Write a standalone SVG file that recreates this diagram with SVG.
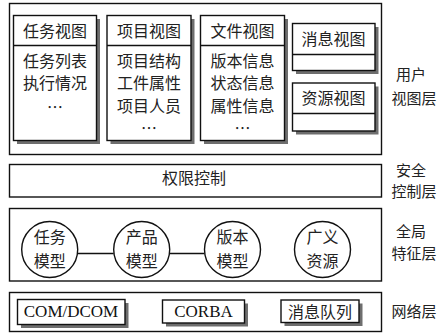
<svg xmlns="http://www.w3.org/2000/svg" width="443" height="335" viewBox="0 0 443 335">
<style>
.frame{fill:#fff;stroke:#111;stroke-width:1.4}
.box{fill:#fff;stroke:#111;stroke-width:1.4}
.sh{fill:#6e6e6e;stroke:none}
.ln{stroke:#111;stroke-width:1.4;fill:none}
.t{font-family:"Noto Sans CJK SC","Liberation Serif",sans-serif;font-size:16px;fill:#222;text-anchor:middle;dominant-baseline:central}
.s{font-family:"Noto Sans CJK SC","Liberation Serif",sans-serif;font-size:15px;fill:#222;text-anchor:middle;dominant-baseline:central}
.e{font-family:"Liberation Serif","Noto Sans CJK SC",serif;font-size:17px;fill:#111;text-anchor:middle;dominant-baseline:central}
</style>
<rect width="443" height="335" fill="#fff"/>
<g id="layer-user">
<rect class="frame" x="9.5" y="3.5" width="372" height="151"/>
<text class="s" x="411" y="73">用户</text>
<text class="s" x="414" y="97">视图层</text>
</g>
<g id="task-view">
<rect class="sh" x="17" y="19" width="83" height="125"/>
<rect class="box" x="13.5" y="15.5" width="83" height="125"/>
<line class="ln" x1="13.5" y1="45.5" x2="96.5" y2="45.5"/>
<text class="t" x="55" y="30">任务视图</text>
<text class="t" x="55" y="60">任务列表</text>
<text class="t" x="55" y="82">执行情况</text>
<text class="t" x="55" y="106">…</text>
</g>
<g id="project-view">
<rect class="sh" x="110.5" y="19" width="84" height="125"/>
<rect class="box" x="107" y="15.5" width="84" height="125"/>
<line class="ln" x1="107" y1="45.5" x2="191" y2="45.5"/>
<text class="t" x="149" y="30">项目视图</text>
<text class="t" x="149" y="60">项目结构</text>
<text class="t" x="149" y="82">工件属性</text>
<text class="t" x="149" y="105">项目人员</text>
<text class="t" x="149" y="127">…</text>
</g>
<g id="file-view">
<rect class="sh" x="204" y="19" width="84" height="125"/>
<rect class="box" x="200.5" y="15.5" width="84" height="125"/>
<line class="ln" x1="200.5" y1="45.5" x2="284.5" y2="45.5"/>
<text class="t" x="242.5" y="30">文件视图</text>
<text class="t" x="242.5" y="60">版本信息</text>
<text class="t" x="242.5" y="82">状态信息</text>
<text class="t" x="242.5" y="105">属性信息</text>
<text class="t" x="242.5" y="127">…</text>
</g>
<g id="message-view">
<rect class="sh" x="296" y="27" width="82.5" height="47"/>
<rect class="box" x="292.5" y="23.5" width="82.5" height="47"/>
<line class="ln" x1="292.5" y1="54.5" x2="375" y2="54.5"/>
<text class="t" x="333.5" y="38">消息视图</text>
</g>
<g id="resource-view">
<rect class="sh" x="296" y="86.5" width="82.5" height="48"/>
<rect class="box" x="292.5" y="83" width="82.5" height="48"/>
<line class="ln" x1="292.5" y1="113.5" x2="375" y2="113.5"/>
<text class="t" x="333.5" y="97">资源视图</text>
</g>
<g id="layer-security">
<rect class="frame" x="9.5" y="164.5" width="372" height="32.5"/>
<text class="t" x="194" y="177">权限控制</text>
<text class="s" x="411" y="169">安全</text>
<text class="s" x="414" y="190">控制层</text>
</g>
<g id="layer-feature">
<rect class="frame" x="9.5" y="208.5" width="372" height="72.5"/>
<text class="s" x="411" y="230">全局</text>
<text class="s" x="414" y="252">特征层</text>
</g>
<g id="connectors">
<line class="ln" x1="77.7" y1="253.5" x2="113.7" y2="253.5"/>
<line class="ln" x1="169.7" y1="253.5" x2="204.5" y2="253.5"/>
</g>
<g id="task-model">
<circle class="box" cx="49.7" cy="249.5" r="28"/>
<text class="t" x="49.7" y="236">任务</text>
<text class="t" x="49.7" y="260">模型</text>
</g>
<g id="product-model">
<circle class="box" cx="141.7" cy="249.5" r="28"/>
<text class="t" x="141.7" y="236">产品</text>
<text class="t" x="141.7" y="260">模型</text>
</g>
<g id="version-model">
<circle class="box" cx="232.5" cy="249.5" r="28"/>
<text class="t" x="232.5" y="236">版本</text>
<text class="t" x="232.5" y="260">模型</text>
</g>
<g id="resource-model">
<circle class="box" cx="322.5" cy="249.5" r="28"/>
<text class="t" x="322.5" y="236">广义</text>
<text class="t" x="322.5" y="260">资源</text>
</g>
<g id="layer-network">
<rect class="frame" x="9.5" y="292.5" width="372" height="39"/>
<text class="s" x="414" y="310">网络层</text>
</g>
<g id="com-dcom">
<rect class="sh" x="21" y="303" width="107.5" height="25"/>
<rect class="box" x="17.5" y="299.5" width="107.5" height="25"/>
<text class="e" x="71" y="311">COM/DCOM</text>
</g>
<g id="corba">
<rect class="sh" x="166" y="303.5" width="82" height="23"/>
<rect class="box" x="162.5" y="300" width="82" height="23"/>
<text class="e" x="203.5" y="311">CORBA</text>
</g>
<g id="message-queue">
<rect class="sh" x="284.5" y="303.5" width="78" height="22.5"/>
<rect class="box" x="281" y="300" width="78" height="22.5"/>
<text class="t" x="320" y="311">消息队列</text>
</g>
</svg>
